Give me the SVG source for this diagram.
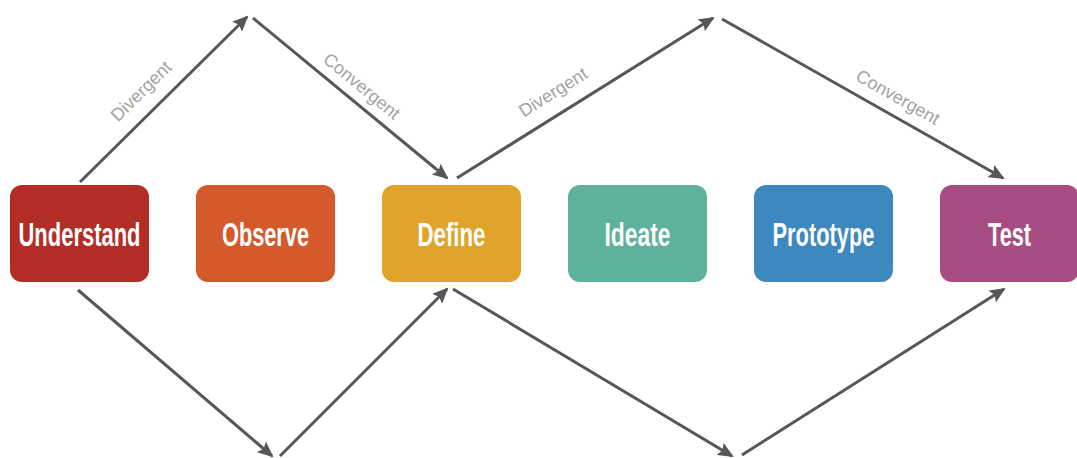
<svg xmlns="http://www.w3.org/2000/svg" width="1077" height="458" viewBox="0 0 1077 458">
  <style>
    .box { stroke: none; }
    .label { font-family: "Liberation Sans", Arial, sans-serif; font-weight: bold; font-size: 33px; fill: #ffffff; text-anchor: middle; }
    .edge { stroke: #575757; stroke-width: 3; fill: none; marker-end: url(#arrow); }
    .elabel { font-family: "Liberation Sans", Arial, sans-serif; font-size: 18px; fill: #a3a3a3; text-anchor: middle; }
  </style>
  <defs>
    <marker id="arrow" markerUnits="userSpaceOnUse" markerWidth="16" markerHeight="14" refX="14" refY="7" orient="auto">
      <path d="M0,0 L16,7 L0,14 L3,7 Z" fill="#575757"/>
    </marker>
  </defs>
  <rect width="1077" height="458" fill="#ffffff"/>

  <!-- stage nodes -->
  <g id="understand">
    <rect class="box" x="10" y="185" width="139" height="97" rx="12" fill="#b22d25"/>
    <text class="label" x="79.5" y="246" textLength="122" lengthAdjust="spacingAndGlyphs">Understand</text>
  </g>
  <g id="observe">
    <rect class="box" x="196" y="185" width="139" height="97" rx="12" fill="#d4592b"/>
    <text class="label" x="265.5" y="246" textLength="87" lengthAdjust="spacingAndGlyphs">Observe</text>
  </g>
  <g id="define">
    <rect class="box" x="382" y="185" width="139" height="97" rx="12" fill="#e0a42b"/>
    <text class="label" x="451.5" y="246" textLength="68" lengthAdjust="spacingAndGlyphs">Define</text>
  </g>
  <g id="ideate">
    <rect class="box" x="568" y="185" width="139" height="97" rx="12" fill="#5db19d"/>
    <text class="label" x="637.5" y="246" textLength="66" lengthAdjust="spacingAndGlyphs">Ideate</text>
  </g>
  <g id="prototype">
    <rect class="box" x="754" y="185" width="139" height="97" rx="12" fill="#3c88bf"/>
    <text class="label" x="823.5" y="246" textLength="102" lengthAdjust="spacingAndGlyphs">Prototype</text>
  </g>
  <g id="test">
    <rect class="box" x="940" y="185" width="139" height="97" rx="12" fill="#a74d83"/>
    <text class="label" x="1009.5" y="246" textLength="43" lengthAdjust="spacingAndGlyphs">Test</text>
  </g>

  <!-- connectors: diamonds above and below the row -->
  <g id="connectors">
    <line class="edge" x1="80" y1="182" x2="247" y2="17"/>
    <line class="edge" x1="253" y1="18" x2="447" y2="178"/>
    <line class="edge" x1="457" y1="178" x2="713" y2="18"/>
    <line class="edge" x1="722" y1="19" x2="1003" y2="178"/>

    <line class="edge" x1="78" y1="290" x2="272" y2="456"/>
    <line class="edge" x1="280" y1="456" x2="447" y2="289"/>
    <line class="edge" x1="453" y1="289" x2="732" y2="456"/>
    <line class="edge" x1="742" y1="455" x2="1004" y2="289"/>

    <text class="elabel" transform="translate(141,91) rotate(-44.7)" dy="0.35em">Divergent</text>
    <text class="elabel" transform="translate(362,86) rotate(39.5)" dy="0.35em">Convergent</text>
    <text class="elabel" transform="translate(553,92) rotate(-32)" dy="0.35em">Divergent</text>
    <text class="elabel" transform="translate(898,97) rotate(29.5)" dy="0.35em">Convergent</text>
  </g>
</svg>
